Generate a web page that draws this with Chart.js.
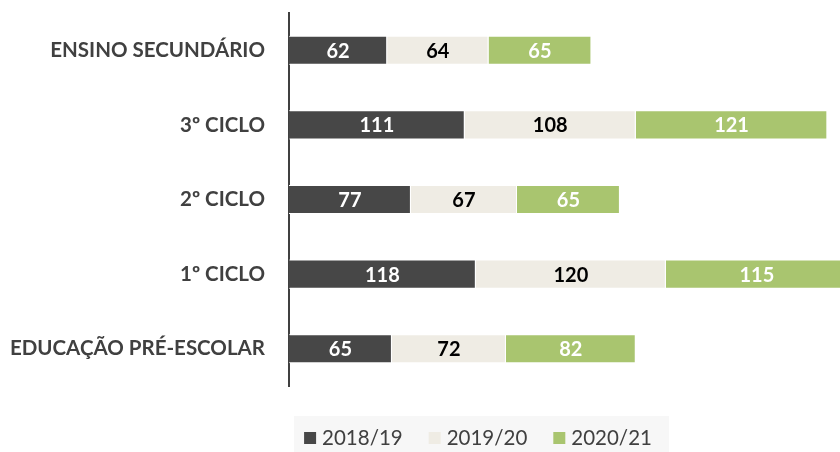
<!DOCTYPE html>
<html>
<head>
<meta charset="utf-8">
<script src="https://cdn.jsdelivr.net/npm/chart.js@4"></script>
<style>
  html, body { margin: 0; padding: 0; background: #fff; }
  canvas { display: block; }
</style>
</head>
<body>
<canvas id="chart" width="840" height="452"></canvas>
<script>
/* ─── Data ─────────────────────────────────────────────────── */
const categories = ['ENSINO SECUNDÁRIO', '3º CICLO', '2º CICLO', '1º CICLO', 'EDUCAÇÃO PRÉ-ESCOLAR'];
const years = ['2018/19', '2019/20', '2020/21'];
const values1819 = [62, 111, 77, 118, 65];
const values1920 = [64, 108, 67, 120, 72];
const values2021 = [65, 121, 65, 115, 82];
const xMax = 348;

/* ─── Style ────────────────────────────────────────────────── */
const FONT = 'Lato, "Open Sans", sans-serif';
const TEXT = '#404040';
const colors = ['#474747', '#efece4', '#a9c56f'];
const labelColors = ['#ffffff', '#000000', '#ffffff'];

// value labels centred in each segment
const barLabels = {
    id: 'barLabels',
    afterDatasetsDraw(chart) {
        const ctx = chart.ctx;
        ctx.save();
        ctx.font = 'bold 20px ' + FONT;
        ctx.textAlign = 'center';
        ctx.textBaseline = 'middle';
        chart.data.datasets.forEach((ds, i) => {
            const meta = chart.getDatasetMeta(i);
            meta.data.forEach((bar, j) => {
                ctx.fillStyle = labelColors[i];
                ctx.fillText(ds.data[j], (bar.x + bar.base) / 2, bar.y + 1);
            });
        });
        ctx.restore();
    }
};

// legend on a light grey strip, offset to the right like the original
const boxLegend = {
    id: 'boxLegend',
    afterDraw(chart) {
        const ctx = chart.ctx;
        const box = 12, gap = 6, spacing = 26;
        const cx = 478, cy = 438;
        ctx.save();
        ctx.font = '20.5px ' + FONT;
        const widths = years.map(y => ctx.measureText(y).width);
        const total = widths.reduce((a, w) => a + box + gap + w, 0) + spacing * (years.length - 1);
        let x = cx - total / 2;

        ctx.fillStyle = '#f7f7f7';
        ctx.fillRect(x - 10, 416, total + 27, 40);

        ctx.textBaseline = 'middle';
        ctx.textAlign = 'left';
        chart.data.datasets.forEach((ds, i) => {
            ctx.fillStyle = ds.backgroundColor;
            ctx.fillRect(x, cy - box / 2, box, box);
            ctx.fillStyle = TEXT;
            ctx.fillText(ds.label, x + box + gap, cy);
            x += box + gap + widths[i] + spacing;
        });
        ctx.restore();
    }
};

const datasets = [values1819, values1920, values2021].map((vals, i) => ({
    label: years[i],
    data: vals,
    backgroundColor: colors[i],
    borderColor: '#ffffff',
    borderWidth: 1,
    barPercentage: 0.39,
    categoryPercentage: 1
}));

new Chart(document.getElementById('chart'), {
    type: 'bar',
    data: { labels: categories, datasets },
    options: {
        indexAxis: 'y',
        responsive: false,
        animation: false,
        layout: { padding: { top: 13, bottom: 66, left: 0, right: 0 } },
        plugins: {
            legend: { display: false },
            tooltip: { enabled: false }
        },
        scales: {
            x: { stacked: true, min: 0, max: xMax, display: false },
            y: {
                stacked: true,
                grid: { display: false, drawTicks: false },
                border: { display: true, color: '#404040', width: 2 },
                ticks: {
                    color: TEXT,
                    padding: 24,
                    font: { family: FONT, size: 20.5, weight: 'bold' }
                },
                afterFit(scale) {
                    scale.width = 289;
                    scale.paddingTop = 0;
                    scale.paddingBottom = 0;
                }
            }
        }
    },
    plugins: [barLabels, boxLegend]
});
</script>
</body>
</html>
